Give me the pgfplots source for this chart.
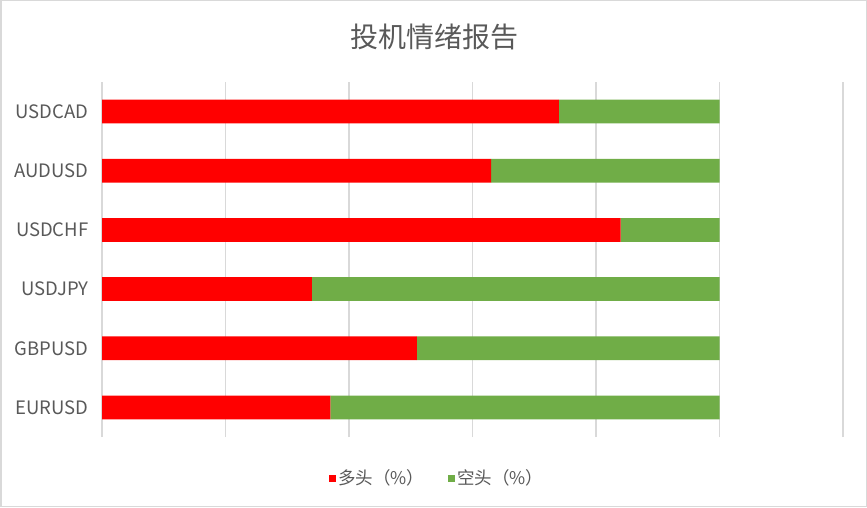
\documentclass[border=0pt]{standalone}
\usepackage{pgfplots}
\pgfplotsset{compat=1.18}
\usepackage{fontspec}
\setmainfont{Noto Sans CJK SC}
\definecolor{longred}{HTML}{FF0000}
\definecolor{shortgreen}{HTML}{70AD47}
\definecolor{gridgray}{HTML}{D9D9D9}
\definecolor{textgray}{HTML}{595959}
\begin{document}
\begin{tikzpicture}
\useasboundingbox (0pt,0pt) rectangle (867pt,507pt);
\fill[white] (0pt,0pt) rectangle (867pt,507pt);
\draw[gridgray, line width=1.5pt] (0.75pt,0.75pt) rectangle (866.25pt,506.25pt);
\node[textgray, font=\fontsize{28}{32}\selectfont] at (434pt,470pt) {投机情绪报告};
\begin{axis}[
  at={(102pt,70pt)}, anchor=south west,
  scale only axis, width=741pt, height=355pt,
  xbar stacked, bar width=23.7pt,
  xmin=0, xmax=120, xtick={0,20,...,120}, xticklabels={},
  ymin=-0.5, ymax=5.5, ytick={0,...,5},
  yticklabels={EURUSD,GBPUSD,USDJPY,USDCHF,AUDUSD,USDCAD},
  yticklabel style={textgray, font=\fontsize{18.5}{21}\selectfont},
  yticklabel shift=10pt,
  xmajorgrids, grid style={gridgray, line width=1.3pt},
  axis line style={draw=none}, tick style={draw=none},
  legend columns=2,
  legend style={at={(rel axis cs:0.4525,-0.1155)}, anchor=center, draw=none,
    fill=none, text=textgray, font=\fontsize{17.5}{20}\selectfont,
    /tikz/every even column/.append style={column sep=22pt}},
  legend image code/.code={\fill[#1] (-3pt,-3.5pt) rectangle (4pt,3.5pt);},
]
\addplot[fill=longred, draw=none] coordinates {
(37,0) (51,1) (34,2) (84,3) (63,4) (74,5)
};
\addlegendentry{多头（\%）}
\addplot[fill=shortgreen, draw=none] coordinates {
(63,0) (49,1) (66,2) (16,3) (37,4) (26,5)
};
\addlegendentry{空头（\%）}
\end{axis}
\end{tikzpicture}
\end{document}
